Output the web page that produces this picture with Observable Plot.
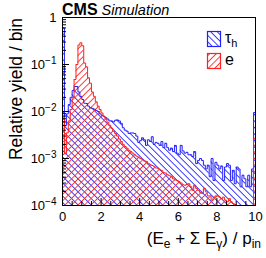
<!DOCTYPE html>
<html><head><meta charset="utf-8">
<script src="https://cdn.jsdelivr.net/npm/d3@7"></script>
<script src="https://cdn.jsdelivr.net/npm/@observablehq/plot@0.6"></script>
<style>
body{margin:0;background:#fff}
svg{font-family:"Liberation Sans",Arial,Helvetica,sans-serif}
</style>
</head><body><div id="chart"></div>
<script>
// ---- data (bin contents, 100 bins from 0 to 10; last bin holds overflow) ----
const xRange = [0, 10];
const tauH = [
 0.60, 5.0e-3, 8.9e-3, 1.4e-2, 2.0e-2, 2.8e-2, 3.4e-2, 3.4e-2, 2.6e-2, 2.1e-2,
 1.8e-2, 1.5e-2, 1.48e-2, 1.3e-2, 1.2e-2, 1.17e-2, 1.12e-2, 1.05e-2, 1.0e-2, 8.9e-3,
 8.3e-3, 7.9e-3, 7.4e-3, 6.9e-3, 6.3e-3, 6.3e-3, 6.0e-3, 6.5e-3, 6.6e-3, 6.3e-3,
 5.6e-3, 4.5e-3, 4.0e-3, 3.8e-3, 3.4e-3, 3.5e-3, 3.5e-3, 3.4e-3, 3.0e-3, 2.2e-3,
 2.4e-3, 2.75e-3, 2.5e-3, 1.9e-3, 2.5e-3, 2.3e-3, 2.9e-3, 2.0e-3, 2.2e-3, 2.1e-3,
 1.9e-3, 2.3e-3, 1.7e-3, 2.1e-3, 1.7e-3, 1.5e-3, 1.66e-3, 1.4e-3, 1.9e-3, 1.3e-3,
 1.2e-3, 1.9e-3, 1.45e-3, 1.3e-3, 1.35e-3, 1.2e-3, 1.2e-3, 1.1e-3, 1.4e-3, 7.8e-4,
 9.1e-4, 1.0e-3, 9.1e-4, 7.2e-4, 6.0e-4, 7.2e-4, 4.1e-4, 1.0e-3, 3.4e-4, 8.3e-4,
 7.2e-4, 6.0e-4, 6.9e-4, 3.4e-4, 6.6e-4, 7.8e-4, 7.2e-4, 3.4e-4, 5.6e-4, 2.9e-4,
 6.6e-4, 6.0e-4, 2.5e-4, 4.4e-4, 3.7e-4, 2.5e-4, 4.4e-4, 2.5e-4, 6.0e-4, 9.5e-3
];
const electron = [
 7.6e-3, 1.26e-3, 3.5e-3, 6.3e-3, 1.1e-2, 2.0e-2, 4.8e-2, 0.10, 0.26, 0.29,
 0.25, 0.107, 8.9e-2, 5.2e-2, 4.0e-2, 2.6e-2, 2.1e-2, 1.6e-2, 1.3e-2, 1.1e-2,
 9.3e-3, 7.9e-3, 6.9e-3, 5.9e-3, 5.1e-3, 4.4e-3, 3.8e-3, 3.4e-3, 3.0e-3, 2.6e-3,
 2.3e-3, 2.0e-3, 1.8e-3, 1.66e-3, 1.5e-3, 1.4e-3, 1.3e-3, 1.2e-3, 1.12e-3, 1.07e-3,
 1.0e-3, 9.5e-4, 8.9e-4, 8.7e-4, 7.9e-4, 7.4e-4, 7.1e-4, 6.8e-4, 6.3e-4, 6.2e-4,
 5.8e-4, 5.5e-4, 5.0e-4, 4.9e-4, 4.5e-4, 4.3e-4, 4.1e-4, 3.7e-4, 3.5e-4, 3.4e-4,
 3.2e-4, 3.0e-4, 2.75e-4, 2.7e-4, 2.8e-4, 2.9e-4, 2.5e-4, 2.1e-4, 2.7e-4, 2.3e-4,
 2.1e-4, 1.9e-4, 1.8e-4, 2.3e-4, 1.95e-4, 1.6e-4, 1.6e-4, 1.3e-4, 1.5e-4, 1.6e-4,
 1.6e-4, 1.5e-4, 1.4e-4, 1.5e-4, 1.3e-4, 1.2e-4, 1.4e-4, 1.2e-4, 1.1e-4, 1.05e-4,
 0, 0, 0, 0, 0, 0, 0, 0, 0, 2.7e-3
];
const seriesLabels = ["τ", "e"];       // τ_h , e
const xTicks = [0, 2, 4, 6, 8, 10];
const yTicks = [1, 1e-1, 1e-2, 1e-3, 1e-4];
const yTickLabels = ["1", "10^-1", "10^-2", "10^-3", "10^-4"];
const yDomain = [1e-4, 1];
const titleBold = "CMS";
const titleItalic = "Simulation";
const yTitle = "Relative yield / bin";

// ---- helpers ----
const nBins = tauH.length;
const bw = (xRange[1] - xRange[0]) / nBins;
const floorVal = yDomain[0];
function steps(vals) {
  const pts = [{x: xRange[0], y: floorVal}];
  vals.forEach((v, i) => {
    const y = v > 0 ? v : floorVal / 100;
    pts.push({x: xRange[0] + i * bw, y}, {x: xRange[0] + (i + 1) * bw, y});
  });
  pts.push({x: xRange[1], y: floorVal});
  return pts;
}
const bluePts = steps(tauH);
const redPts = steps(electron);
const yMinor = [];
[1e-4, 1e-3, 1e-2, 1e-1].forEach(d => { for (let k = 2; k <= 9; k++) yMinor.push(k * d); });
const xMinor = d3.range(xRange[0], xRange[1] + 1e-9, 0.5).filter(v => !xTicks.includes(v));

const W = 266, H = 258, mL = 62, mR = 11, mT = 17, mB = 53;
const fw = W - mL - mR, fh = H - mT - mB;

const chart = Plot.plot({
  width: W, height: H,
  marginLeft: mL, marginRight: mR, marginTop: mT, marginBottom: mB,
  style: {fontFamily: "Liberation Sans, Arial, sans-serif", fontSize: "13px", color: "black", background: "white"},
  x: {domain: xRange, label: null},
  y: {type: "log", domain: yDomain, label: null},
  marks: [
    Plot.areaY(bluePts, {x: "x", y1: floorVal, y2: "y", fill: "url(#hatchBlue)", clip: true}),
    Plot.areaY(redPts, {x: "x", y1: floorVal, y2: "y", fill: "url(#hatchRed)", clip: true}),
    Plot.line(bluePts, {x: "x", y: "y", stroke: "#1f1fff", strokeWidth: 1, clip: true}),
    Plot.line(redPts, {x: "x", y: "y", stroke: "#ff1f1f", strokeWidth: 1, clip: true}),
    Plot.tickY(yTicks, {y: d => d, stroke: "black", insetRight: fw - 7}),
    Plot.tickY(yMinor, {y: d => d, stroke: "black", insetRight: fw - 4}),
    Plot.tickX(xTicks, {x: d => d, stroke: "black", insetTop: fh - 7}),
    Plot.tickX(xMinor, {x: d => d, stroke: "black", insetTop: fh - 4}),
    Plot.axisY({ticks: yTicks, tickSize: 0, tickPadding: 6, fontSize: 13,
      tickFormat: d => yTickLabels[yTicks.indexOf(d)], label: null}),
    Plot.axisX({ticks: xTicks, tickSize: 0, tickPadding: 6, fontSize: 13, label: null}),
    Plot.frame({stroke: "black"})
  ]
});
document.getElementById("chart").appendChild(chart);

const svg = d3.select(chart);
svg.insert("defs", ":first-child").html(`
  <pattern id="hatchBlue" patternUnits="userSpaceOnUse" width="4.6" height="4.6" patternTransform="rotate(45)">
    <line x1="-1" y1="2.3" x2="6" y2="2.3" stroke="#2a2aff" stroke-width="0.9"/>
  </pattern>
  <pattern id="hatchRed" patternUnits="userSpaceOnUse" width="4.6" height="4.6" patternTransform="rotate(-45)">
    <line x1="-1" y1="2.3" x2="6" y2="2.3" stroke="#ff3030" stroke-width="0.9"/>
  </pattern>`);

// superscript exponents on y tick labels
svg.selectAll('[aria-label="y-axis tick label"] text').each(function() {
  const t = this.textContent;
  if (t.includes("^")) {
    const [base, exp] = t.split("^");
    const el = d3.select(this).text(null);
    el.append("tspan").text(base);
    el.append("tspan").attr("dy", "-5").attr("font-size", "10px").text(exp.replace("-", "\u2212"));
  }
});

// header
const head = svg.append("text").attr("x", 62).attr("y", 15).attr("fill", "black").attr("text-anchor", "start");
head.append("tspan").attr("font-weight", "bold").attr("font-size", "16px").text(titleBold);
head.append("tspan").attr("dx", "4").attr("font-style", "italic").attr("font-size", "14.5px").text(titleItalic);

// y title
svg.append("text").attr("transform", "translate(22,18) rotate(-90)")
  .attr("text-anchor", "end").attr("font-size", "17.5px").attr("fill", "black").text(yTitle);

// x title: (E_e + Σ E_γ) / p_in
const xt = svg.append("text").attr("x", 261).attr("y", 244).attr("text-anchor", "end")
  .attr("font-size", "17px").attr("fill", "black");
const parts = [["(E", 0], ["e", 1], [" + \u03A3 E", 0], ["\u03B3", 1], [") / p", 0], ["in", 1]];
let prevSub = 0;
parts.forEach(([s, sub]) => {
  const ts = xt.append("tspan").text(s);
  const dy = (sub - prevSub) * 4;
  if (dy) ts.attr("dy", dy);
  if (sub) ts.attr("font-size", "12px");
  prevSub = sub;
});

// legend
const legend = [
  {label: seriesLabels[0], sub: "h", fill: "url(#hatchBlue)", stroke: "#1f1fff", y: 31},
  {label: seriesLabels[1], sub: null, fill: "url(#hatchRed)", stroke: "#ff1f1f", y: 53}
];
legend.forEach(d => {
  svg.append("rect").attr("x", 207.5).attr("y", d.y + 0.5).attr("width", 13).attr("height", 15)
    .attr("fill", d.fill).attr("stroke", d.stroke).attr("stroke-width", 1.2);
  const t = svg.append("text").attr("x", 225).attr("y", d.y + 12).attr("font-size", "16px")
    .attr("fill", "black").attr("text-anchor", "start");
  t.append("tspan").text(d.label);
  if (d.sub) t.append("tspan").attr("dy", 4).attr("font-size", "11px").text(d.sub);
});
</script>
</body></html>
